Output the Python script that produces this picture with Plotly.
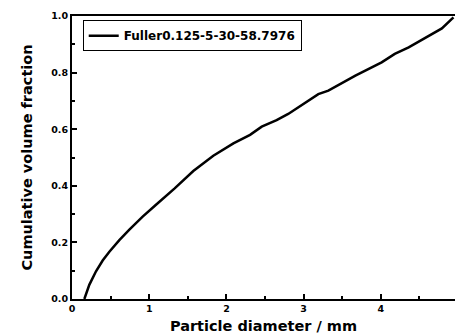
import plotly.graph_objects as go

# Particle diameter (mm) and cumulative volume fraction
diameter = [0.16, 0.224, 0.311, 0.397, 0.484, 0.613, 0.743, 0.915, 1.088, 1.218,
            1.326, 1.571, 1.83, 2.09, 2.306, 2.457, 2.65, 2.80, 2.93, 3.19, 3.32,
            3.67, 4.01, 4.18, 4.36, 4.66, 4.79, 4.94]
fraction = [0.0, 0.050, 0.098, 0.136, 0.167, 0.208, 0.245, 0.291, 0.333, 0.364,
            0.390, 0.452, 0.506, 0.550, 0.580, 0.609, 0.632, 0.654, 0.677, 0.724, 0.736,
            0.789, 0.836, 0.866, 0.889, 0.936, 0.956, 0.995]
series_name = "Fuller0.125-5-30-58.7976"

FONT = "DejaVu Sans"

fig = go.Figure()
fig.add_trace(go.Scatter(x=diameter, y=fraction, mode="lines", name=series_name,
                         line=dict(color="black", width=2.5), showlegend=True))

axis_common = dict(
    showgrid=False, zeroline=False, showline=True, linecolor="black", linewidth=2,
    ticks="inside", ticklen=5, tickwidth=1.5, tickcolor="black",
    tickfont=dict(family=FONT, size=9.5, color="black", weight="bold"),
)

fig.update_layout(
    width=455, height=335,
    margin=dict(l=72, r=0, t=16, b=36),
    paper_bgcolor="white", plot_bgcolor="white",
    showlegend=True,
    legend=dict(x=0.028, y=0.985, xanchor="left", yanchor="top",
                bordercolor="black", borderwidth=1, bgcolor="white",
                font=dict(family=FONT, size=12, color="black", weight="bold")),
    xaxis=dict(range=[0, 4.96], tick0=0, dtick=1, mirror=True,
               minor=dict(dtick=0.5, ticks="inside", ticklen=3, tickwidth=1.5, tickcolor="black"),
               title=dict(text="Particle diameter / mm", standoff=7,
                          font=dict(family=FONT, size=14.5, color="black", weight="bold")),
               **axis_common),
    yaxis=dict(range=[0, 1], tick0=0, dtick=0.2, tickformat=".1f",
               minor=dict(dtick=0.1, ticks="inside", ticklen=3, tickwidth=1.5, tickcolor="black"),
               title=dict(text="Cumulative volume fraction", standoff=15,
                          font=dict(family=FONT, size=14.5, color="black", weight="bold")),
               **axis_common),
)

fig.write_html("out.html")
